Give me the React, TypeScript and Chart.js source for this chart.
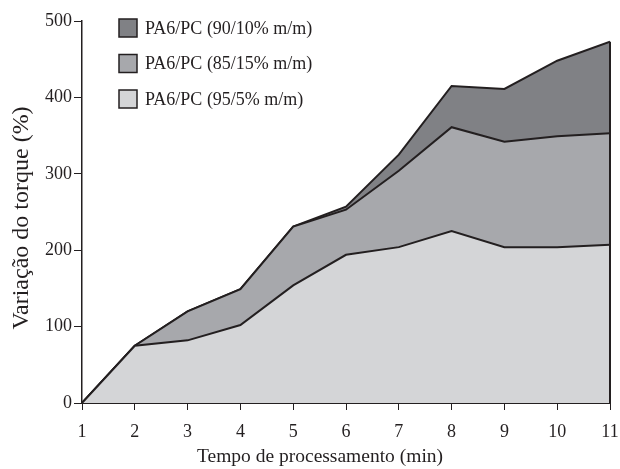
import React, { useEffect, useRef } from "react";
import { Chart, registerables } from "chart.js";

Chart.register(...registerables);

const times = [1, 2, 3, 4, 5, 6, 7, 8, 9, 10, 11];
const pa95 = [0, 75, 82, 102, 154, 194, 204, 225, 204, 204, 207];
const pa85 = [0, 75, 120, 149, 231, 253, 304, 361, 342, 349, 353];
const pa90 = [0, 75, 120, 149, 231, 257, 325, 415, 411, 448, 473];
const yTicks = [0, 100, 200, 300, 400, 500];

const labels95 = "PA6/PC (95/5% m/m)";
const labels85 = "PA6/PC (85/15% m/m)";
const labels90 = "PA6/PC (90/10% m/m)";
const xTitle = "Tempo de processamento (min)";
const yTitle = "Variação do torque (%)";

const INK = "#231f20";
const FONT = "'Liberation Serif', 'Times New Roman', serif";

const pts = (ys: number[]) => times.map((x, i) => ({ x, y: ys[i] }));

const edgePlugin = {
  id: "edges",
  afterDatasetsDraw(chart: any) {
    const { ctx, scales } = chart;
    const xs = scales.x;
    const ys = scales.y;
    const lastX = times[times.length - 1];
    const maxY = Math.max(pa95[pa95.length - 1], pa85[pa85.length - 1], pa90[pa90.length - 1]);
    ctx.save();
    ctx.strokeStyle = INK;
    ctx.lineWidth = 2;
    ctx.beginPath();
    ctx.moveTo(xs.getPixelForValue(lastX), ys.getPixelForValue(0));
    ctx.lineTo(xs.getPixelForValue(lastX), ys.getPixelForValue(maxY));
    ctx.stroke();
    ctx.restore();
  },
  afterDraw(chart: any) {
    const { ctx, chartArea } = chart;
    const ds = chart.data.datasets.slice().reverse();
    ctx.save();
    ctx.font = `18px ${FONT}`;
    ctx.textBaseline = "middle";
    ds.forEach((d: any, i: number) => {
      const yc = 28 + i * 35.5;
      ctx.fillStyle = d.backgroundColor;
      ctx.fillRect(119, yc - 9, 18, 18);
      ctx.strokeStyle = INK;
      ctx.lineWidth = 1.5;
      ctx.strokeRect(119, yc - 9, 18, 18);
      ctx.fillStyle = INK;
      ctx.fillText(d.label, 145, yc + 1);
    });
    // axis titles
    ctx.fillStyle = INK;
    ctx.textAlign = "center";
    ctx.font = `19.5px ${FONT}`;
    ctx.fillText(xTitle, 320, 457);
    ctx.save();
    ctx.translate(22, (chartArea.top + chartArea.bottom) / 2 + 6);
    ctx.rotate(-Math.PI / 2);
    ctx.font = `24px ${FONT}`;
    ctx.fillText(yTitle, 0, 0);
    ctx.restore();
    ctx.restore();
  },
};

export default function App() {
  const ref = useRef<HTMLCanvasElement | null>(null);
  useEffect(() => {
    if (!ref.current) return;
    const chart = new Chart(ref.current, {
      type: "line",
      data: {
        datasets: [
          { label: labels95, data: pts(pa95), backgroundColor: "#d4d5d7", borderColor: INK, borderWidth: 2, fill: "origin", pointRadius: 0, tension: 0 },
          { label: labels85, data: pts(pa85), backgroundColor: "#a7a8ac", borderColor: INK, borderWidth: 2, fill: "origin", pointRadius: 0, tension: 0 },
          { label: labels90, data: pts(pa90), backgroundColor: "#808185", borderColor: INK, borderWidth: 2, fill: "origin", pointRadius: 0, tension: 0 },
        ],
      },
      options: {
        animation: false,
        responsive: false,
        maintainAspectRatio: false,
        layout: { padding: { top: 21, right: 10, left: 0, bottom: 0 } },
        plugins: { legend: { display: false }, tooltip: { enabled: false } },
        scales: {
          x: {
            type: "linear",
            min: 1,
            max: 11,
            afterBuildTicks: (s: any) => { s.ticks = times.map((v) => ({ value: v })); },
            afterFit: (s: any) => { s.height = 66; s.paddingLeft = 0; s.paddingRight = 0; },
            grid: { display: true, drawOnChartArea: false, drawTicks: true, tickLength: 7, color: INK, lineWidth: 1 },
            border: { display: true, color: INK, width: 2 },
            ticks: { color: INK, font: { family: FONT, size: 18 }, padding: 11, maxRotation: 0 },
            title: { display: false },
          },
          y: {
            min: 0,
            max: 500,
            afterBuildTicks: (s: any) => { s.ticks = yTicks.map((v) => ({ value: v })); },
            afterFit: (s: any) => { s.width = 82; s.paddingTop = 0; s.paddingBottom = 0; },
            grid: { display: true, drawOnChartArea: false, drawTicks: true, tickLength: 8, color: INK, lineWidth: 1 },
            border: { display: true, color: INK, width: 1.5 },
            ticks: { color: INK, font: { family: FONT, size: 18 }, padding: 2 },
            title: { display: false },
          },
        },
      },
      plugins: [edgePlugin],
    } as any);
    return () => chart.destroy();
  }, []);
  return (
    <div style={{ position: "absolute", left: 0, top: 0, width: 620, height: 469, background: "#fff" }}>
      <canvas ref={ref} width={620} height={469} style={{ display: "block" }} />
    </div>
  );
}
